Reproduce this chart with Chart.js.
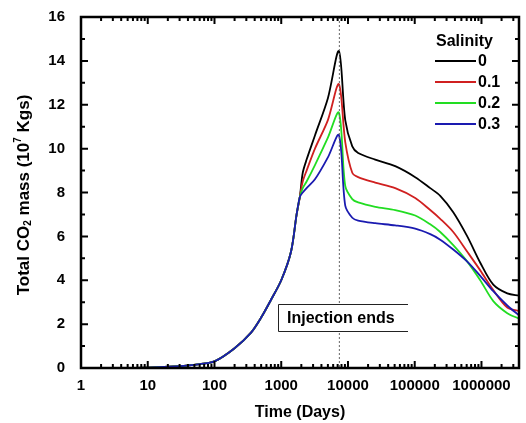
<!DOCTYPE html>
<html>
<head>
<meta charset="utf-8">
<script src="https://cdn.jsdelivr.net/npm/chart.js@4.4.1/dist/chart.umd.min.js"></script>
<style>
  body { margin: 0; background: #fff; }
</style>
</head>
<body>
<canvas id="massChart" width="526" height="423"></canvas>
<script>
// Dados (tempo em dias, massa em 10^7 kg)
const days = [1, 10, 30, 60, 100, 200, 350, 500, 700, 1000, 1400, 1700, 1900,
    2100, 2400, 3200, 5000, 7300, 9100, 11600, 14200, 25600, 51000, 101700,
    170700, 241000, 377800, 612600, 959000, 1503000, 2437000, 3650000];

// trecho comum antes das curvas se separarem
const rise = [0, 0.02, 0.08, 0.18, 0.3, 0.9, 1.6, 2.3, 3.1, 4.0, 5.3, 7.0, 7.8];

const mass0 = rise.concat([8.9, 9.5, 10.6, 12.3, 14.45, 11.3, 10.1, 9.8, 9.5, 9.2,
    8.7, 8.2, 7.85, 7.1, 6.0, 4.8, 3.8, 3.4, 3.3]);
const mass01 = rise.concat([8.5, 9.0, 10.0, 11.3, 12.94, 10.3, 8.9, 8.7, 8.45, 8.2,
    7.75, 7.2, 6.8, 6.2, 5.3, 4.45, 3.55, 2.75, 2.6]);
const mass02 = rise.concat([8.2, 8.5, 9.25, 10.5, 11.64, 8.3, 7.7, 7.55, 7.35, 7.2,
    6.95, 6.55, 6.2, 5.6, 4.85, 4.0, 3.05, 2.5, 2.25]);
const mass03 = rise.concat([8.0, 8.2, 8.6, 9.6, 10.62, 7.4, 6.85, 6.72, 6.6, 6.5,
    6.35, 6.1, 5.85, 5.4, 4.85, 4.2, 3.5, 2.85, 2.4]);

const salinity = ['0', '0.1', '0.2', '0.3'];
const colors = ['#000000', '#d02020', '#22dd22', '#1a1ab0'];
const xTicks = [1, 10, 100, 1000, 10000, 100000, 1000000];
const yTicks = [0, 2, 4, 6, 8, 10, 12, 14, 16];
const injectionDay = 7300;

const FONT = "'Liberation Sans', Arial, sans-serif";

function pts(vals) {
    return days.map((d, i) => ({ x: d, y: vals[i] }));
}

// moldura, ticks para dentro, legenda e textos
const frame = {
    id: 'frame',
    afterDatasetsDraw(chart) {
        const { ctx, chartArea: a, scales: { x, y } } = chart;
        ctx.save();

        // linha de fim da injeção
        const xi = x.getPixelForValue(injectionDay);
        ctx.strokeStyle = '#666';
        ctx.lineWidth = 1;
        ctx.setLineDash([2, 2]);
        ctx.beginPath();
        ctx.moveTo(xi + 0.5, a.top);
        ctx.lineTo(xi + 0.5, a.bottom);
        ctx.stroke();
        ctx.setLineDash([]);

        // caixa "Injection ends" (sem o lado direito)
        const bx = 278, by = 304, bw = 130, bh = 27;
        ctx.fillStyle = '#fff';
        ctx.fillRect(bx, by, bw, bh);
        ctx.strokeStyle = '#222';
        ctx.beginPath();
        ctx.moveTo(bx + bw, by + 0.5);
        ctx.lineTo(bx + 0.5, by + 0.5);
        ctx.lineTo(bx + 0.5, by + bh + 0.5);
        ctx.lineTo(bx + bw, by + bh + 0.5);
        ctx.stroke();
        ctx.fillStyle = '#000';
        ctx.font = 'bold 16px ' + FONT;
        ctx.textBaseline = 'middle';
        ctx.textAlign = 'left';
        ctx.fillText('Injection ends', 287, by + bh / 2 + 1);

        // moldura
        ctx.strokeStyle = '#000';
        ctx.lineWidth = 2.5;
        ctx.strokeRect(a.left, a.top, a.right - a.left, a.bottom - a.top);

        ctx.lineWidth = 2;
        ctx.beginPath();
        for (let d = 1; d <= x.max; d *= 10) {
            for (let m = 1; m < 10; m++) {
                const v = d * m;
                if (v > x.max) break;
                const px = x.getPixelForValue(v);
                const len = m === 1 ? 7 : 4;
                ctx.moveTo(px, a.bottom);
                ctx.lineTo(px, a.bottom - len);
                ctx.moveTo(px, a.top);
                ctx.lineTo(px, a.top + len);
            }
        }
        for (let v = 0; v <= 16; v++) {
            const py = y.getPixelForValue(v);
            const len = v % 2 === 0 ? 7 : 4;
            ctx.moveTo(a.left, py);
            ctx.lineTo(a.left + len, py);
            ctx.moveTo(a.right, py);
            ctx.lineTo(a.right - len, py);
        }
        ctx.stroke();

        // legenda
        ctx.font = 'bold 16px ' + FONT;
        ctx.textAlign = 'left';
        ctx.fillStyle = '#000';
        ctx.fillText('Salinity', 436, 42);
        salinity.forEach((s, i) => {
            const ly = 61 + i * 21;
            ctx.strokeStyle = colors[i];
            ctx.lineWidth = 2;
            ctx.beginPath();
            ctx.moveTo(435, ly);
            ctx.lineTo(476, ly);
            ctx.stroke();
            ctx.fillStyle = '#000';
            ctx.fillText(s, 478, ly + 1);
        });

        // títulos dos eixos
        ctx.textAlign = 'center';
        ctx.fillText('Time (Days)', (a.left + a.right) / 2, 413);

        const parts = [
            ['Total CO', 0, 17], ['2', 4, 10], [' mass (10', 0, 17],
            ['7', -6, 10], [' Kgs)', 0, 17]
        ];
        let total = 0;
        parts.forEach(p => {
            ctx.font = 'bold ' + p[2] + 'px ' + FONT;
            p.push(ctx.measureText(p[0]).width);
            total += p[3];
        });
        ctx.translate(24, 195);
        ctx.rotate(-Math.PI / 2);
        ctx.textAlign = 'left';
        let cx = -total / 2;
        parts.forEach(p => {
            ctx.font = 'bold ' + p[2] + 'px ' + FONT;
            ctx.fillText(p[0], cx, p[1]);
            cx += p[3];
        });

        ctx.restore();
    }
};

const series = [mass0, mass01, mass02, mass03];

new Chart(document.getElementById('massChart'), {
    type: 'line',
    data: {
        datasets: series.map((vals, i) => ({
            label: salinity[i],
            data: pts(vals),
            borderColor: colors[i],
            borderWidth: 1.8,
            pointRadius: 0,
            tension: 0.3,
            fill: false
        })).reverse()
    },
    options: {
        responsive: false,
        animation: false,
        layout: { padding: { top: 12, right: 7, left: 0, bottom: 0 } },
        plugins: {
            legend: { display: false },
            tooltip: { enabled: false }
        },
        scales: {
            x: {
                type: 'logarithmic',
                min: 1,
                max: 3650000,
                grid: { display: false },
                border: { display: false },
                afterBuildTicks: s => { s.ticks = xTicks.map(v => ({ value: v })); },
                afterFit: s => { s.height = 55; },
                ticks: {
                    autoSkip: false,
                    maxRotation: 0,
                    padding: 1,
                    color: '#000',
                    font: { family: FONT, size: 15, weight: 'bold' },
                    callback: v => String(v)
                }
            },
            y: {
                min: 0,
                max: 16,
                grid: { display: false },
                border: { display: false },
                afterBuildTicks: s => { s.ticks = yTicks.map(v => ({ value: v })); },
                afterFit: s => { s.width = 81; },
                ticks: {
                    padding: 8,
                    color: '#000',
                    font: { family: FONT, size: 15, weight: 'bold' }
                }
            }
        }
    },
    plugins: [frame]
});
</script>
</body>
</html>
